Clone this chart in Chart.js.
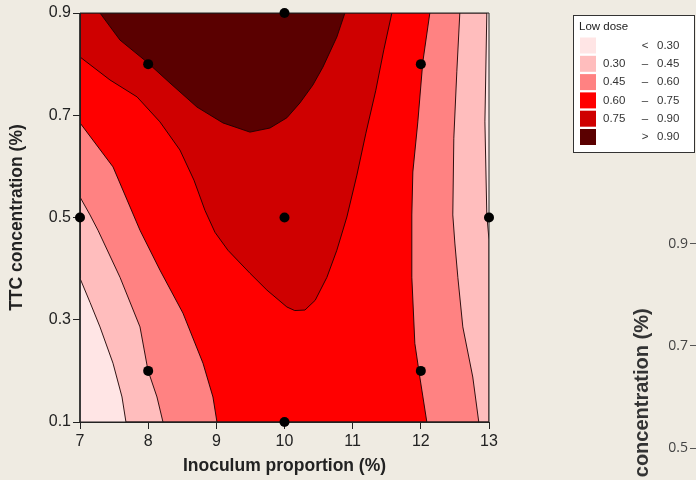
<!DOCTYPE html>
<html>
<head>
<meta charset="utf-8">
<script src="https://cdn.jsdelivr.net/npm/chart.js@4.4.1/dist/chart.umd.min.js"></script>
<style>
  html, body { margin: 0; padding: 0; }
  body { width: 696px; height: 480px; overflow: hidden; position: relative; background: #efebe2; }
  canvas { position: absolute; top: 0; }
</style>
</head>
<body>
<canvas id="contourChart" width="696" height="480" style="left:0"></canvas>
<canvas id="nextChart" width="400" height="700" style="left:600px"></canvas>
<script>
// axis ticks and titles
const xTicks = [7, 8, 9, 10, 11, 12, 13];
const yTicks = [0.1, 0.3, 0.5, 0.7, 0.9];
const xTitle = 'Inoculum proportion (%)';
const yTitle = 'TTC concentration (%)';

// contour levels and band colours (lowest band first)
const levels = [0.30, 0.45, 0.60, 0.75, 0.90];
const levelColors = ['#ffe5e5', '#ffbdbd', '#ff8282', '#ff0000', '#cf0000', '#5a0000'];
const legendTitle = 'Low dose';

// design points
const designX = [7, 8, 8, 10, 10, 10, 12, 12, 13];
const designY = [0.5, 0.8, 0.2, 0.9, 0.5, 0.1, 0.8, 0.2, 0.5];

// contour lines, [x, y]
const c30Left = [[7, 0.381], [7.147, 0.334], [7.293, 0.286], [7.484, 0.215], [7.616, 0.149], [7.674, 0.1]];
const c30Right = [[12.968, 0.9], [12.94, 0.687], [12.968, 0.505], [13, 0.456]];
const c45Left = [[7, 0.54], [7.147, 0.505], [7.264, 0.475], [7.587, 0.383], [7.88, 0.286], [7.997, 0.201], [8.129, 0.149], [8.217, 0.1]];
const c45Right = [[12.572, 0.9], [12.528, 0.785], [12.484, 0.655], [12.469, 0.505], [12.499, 0.45], [12.543, 0.383], [12.616, 0.286], [12.762, 0.188], [12.85, 0.1]];
const c60Left = [[7, 0.685], [7.484, 0.599], [7.88, 0.475], [8.173, 0.397], [8.51, 0.313], [8.804, 0.215], [8.95, 0.149], [9.009, 0.1]];
const c60Right = [[12.132, 0.9], [12.029, 0.804], [11.956, 0.687], [11.883, 0.589], [11.868, 0.505], [11.868, 0.383], [11.912, 0.254], [11.985, 0.188], [12.088, 0.1]];
const c75 = [[7, 0.814], [7.44, 0.769], [7.836, 0.736], [8.173, 0.687], [8.466, 0.632], [8.672, 0.573], [8.833, 0.514], [8.98, 0.471],
  [9.17, 0.436], [9.493, 0.391], [9.742, 0.358], [10.035, 0.325], [10.15, 0.318], [10.3, 0.319], [10.45, 0.338], [10.622, 0.383],
  [10.768, 0.436], [10.915, 0.501], [11.062, 0.583], [11.194, 0.665], [11.34, 0.749], [11.457, 0.828], [11.575, 0.9]];
const c90 = [[7.293, 0.9], [7.587, 0.847], [7.982, 0.804], [8.32, 0.763], [8.716, 0.716], [9.097, 0.685], [9.493, 0.667],
  [9.786, 0.675], [10.035, 0.695], [10.226, 0.724], [10.416, 0.759], [10.563, 0.794], [10.768, 0.853], [10.886, 0.9]];

const X0 = xTicks[0], X1 = xTicks[xTicks.length - 1];
const Y0 = yTicks[0], Y1 = yTicks[yTicks.length - 1];
const lineColor = 'rgba(25, 0, 0, 0.9)';

function toXY(list) {
    return list.map(([x, y]) => ({ x: x, y: y }));
}

// region where the response is above each level
const regions = [
    [[X0, Y0], [X1, Y0], [X1, Y1], [X0, Y1], [X0, Y0]],
    [...c30Left, [X1, Y0], ...c30Right.slice().reverse(), [X0, Y1], c30Left[0]],
    [...c45Left, ...c45Right.slice().reverse(), [X0, Y1], c45Left[0]],
    [...c60Left, ...c60Right.slice().reverse(), [X0, Y1], c60Left[0]],
    [...c75, [X0, Y1], c75[0]],
    [...c90, c90[0]]
];

const datasets = regions.map((pts, i) => ({
    data: toXY(pts),
    showLine: true,
    fill: 'shape',
    backgroundColor: levelColors[i],
    borderColor: i === 0 ? 'rgba(0,0,0,0)' : lineColor,
    borderWidth: i === 0 ? 0 : 1,
    pointRadius: 0,
    tension: 0,
    order: 20 - i
}));

// frame round the plot
datasets.push({
    data: toXY(regions[0]),
    showLine: true,
    fill: false,
    borderColor: '#222',
    borderWidth: 1,
    pointRadius: 0,
    clip: false,
    order: 2
});

datasets.push({
    data: designX.map((x, i) => ({ x: x, y: designY[i] })),
    showLine: false,
    pointRadius: 5,
    pointBackgroundColor: '#000',
    pointBorderWidth: 0,
    clip: false,
    order: 1
});

// legend box in the top right
const doseLegend = {
    id: 'doseLegend',
    afterDraw(chart) {
        const ctx = chart.ctx;
        ctx.save();
        ctx.fillStyle = '#fff';
        ctx.fillRect(573.5, 15.5, 121, 137);
        ctx.strokeStyle = '#333';
        ctx.lineWidth = 1;
        ctx.strokeRect(573.5, 15.5, 121, 137);
        ctx.font = '11.5px "Liberation Sans", Arial, sans-serif';
        ctx.textBaseline = 'middle';
        ctx.fillStyle = '#222';
        ctx.textAlign = 'left';
        ctx.fillText(legendTitle, 579, 27);
        levelColors.forEach((c, i) => {
            const y = 45.5 + i * 18.3;
            ctx.fillStyle = c;
            ctx.fillRect(580, y - 8, 16, 16);
            let lo = '', sym = '–', hi;
            if (i === 0) { sym = '<'; hi = levels[0]; }
            else if (i === levels.length) { sym = '>'; hi = levels[i - 1]; }
            else { lo = levels[i - 1].toFixed(2); hi = levels[i]; }
            ctx.fillStyle = '#333';
            ctx.textAlign = 'left';
            if (lo) ctx.fillText(lo, 603, y);
            ctx.textAlign = 'center';
            ctx.fillText(sym, 645, y);
            ctx.textAlign = 'left';
            ctx.fillText(hi.toFixed(2), 657, y);
        });
        ctx.restore();
    }
};

const tickFont = { family: '"Liberation Sans", Arial, sans-serif', size: 16 };
const titleFont = { family: '"Liberation Sans", Arial, sans-serif', size: 17.5, weight: 'bold' };

new Chart(document.getElementById('contourChart'), {
    type: 'scatter',
    data: { datasets: datasets },
    options: {
        responsive: false,
        animation: false,
        events: [],
        layout: { padding: { left: 4, top: 13, right: 207, bottom: 0 } },
        plugins: { legend: { display: false }, tooltip: { enabled: false } },
        scales: {
            x: {
                type: 'linear',
                min: X0,
                max: X1,
                afterBuildTicks: (s) => { s.ticks = xTicks.map(v => ({ value: v })); },
                afterFit: (s) => { s.height = 58; },
                ticks: { font: tickFont, color: '#222', padding: 3, callback: v => String(v) },
                grid: { drawOnChartArea: false, tickLength: 7, color: '#222' },
                border: { color: '#222' },
                title: { display: true, text: xTitle, font: titleFont, color: '#222', padding: { top: 4, bottom: 3 } }
            },
            y: {
                type: 'linear',
                min: Y0,
                max: Y1,
                afterBuildTicks: (s) => { s.ticks = yTicks.map(v => ({ value: v })); },
                afterFit: (s) => { s.width = 76; },
                ticks: { font: tickFont, color: '#222', padding: 2, callback: v => v.toFixed(1) },
                grid: { drawOnChartArea: false, tickLength: 7, color: '#222' },
                border: { color: '#222' },
                title: { display: true, text: yTitle, font: titleFont, color: '#222', padding: { top: 3, bottom: 4 } }
            }
        }
    },
    plugins: [doseLegend]
});

// edge of the neighbouring chart, cut off at the right border
new Chart(document.getElementById('nextChart'), {
    type: 'scatter',
    data: { datasets: [] },
    options: {
        responsive: false,
        animation: false,
        events: [],
        layout: { padding: { left: 26, top: 177, right: 0, bottom: 47 } },
        plugins: { legend: { display: false }, tooltip: { enabled: false } },
        scales: {
            x: { display: false, min: X0, max: X1 },
            y: {
                min: Y0,
                max: 1.03,
                afterBuildTicks: (s) => { s.ticks = yTicks.map(v => ({ value: v })); },
                afterFit: (s) => { s.width = 70; },
                ticks: { font: { family: '"Open Sans", sans-serif', size: 14 }, color: '#444', padding: 2, callback: v => v.toFixed(1) },
                grid: { drawOnChartArea: false, tickLength: 6, color: '#555' },
                border: { color: '#555' },
                title: { display: true, text: yTitle, font: { family: '"Liberation Sans", Arial, sans-serif', size: 20, weight: 'bold' }, color: '#333' }
            }
        }
    }
});
</script>
</body>
</html>
